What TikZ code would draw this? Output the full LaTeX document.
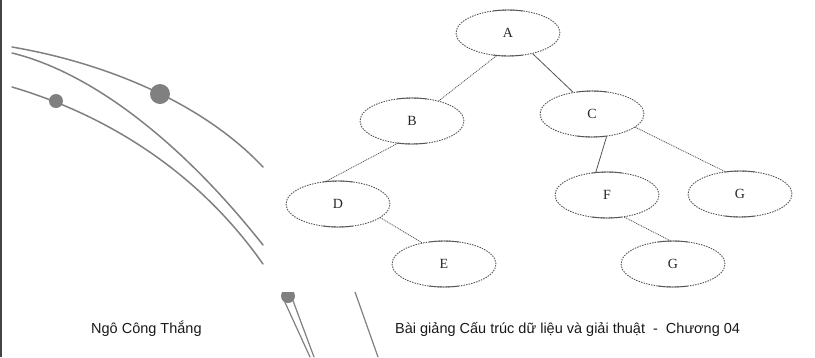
\documentclass[tikz,border=0pt]{standalone}
\usepackage{fontspec}
\setmainfont{Liberation Serif}
\newfontfamily\footfont{Liberation Sans}
\usetikzlibrary{shapes.geometric}
\definecolor{curvegray}{HTML}{808080}
\definecolor{edgegray}{HTML}{555555}
\definecolor{bordergray}{HTML}{444444}

\begin{document}
\begin{tikzpicture}[x=1pt,y=-1pt,
  treenode/.style={ellipse,draw=edgegray,line width=0.9pt,dash pattern=on 1.5pt off 1.1pt,
    minimum width=104pt,minimum height=46pt,inner sep=0pt,text=black!85,
    font=\fontsize{14}{14}\selectfont,
    postaction={draw=edgegray,line width=0.9pt,dash pattern=on 0pt off 46pt on 30pt off 92pt on 30pt off 50pt}},
  deco/.style={curvegray,line width=1.5pt,line cap=round},
  dotline/.style={edgegray,line width=0.8pt,dash pattern=on 1pt off 0.9pt},
  solidline/.style={edgegray,line width=0.8pt},
  foottext/.style={anchor=base west,inner sep=0pt,text=black!90,font=\footfont\fontsize{14.5}{14.5}\selectfont}]
\useasboundingbox (0,0) rectangle (815,357);
% left border
\draw[bordergray,line width=1.5pt] (1,0) -- (1,357);
% decorative curves
\draw[deco] (12,47) .. controls (100,62) and (200,100) .. (263,167);
\draw[deco] (12,53) .. controls (90,72) and (180,140) .. (263,245);
\draw[deco] (12,87) .. controls (90,110) and (190,160) .. (263,264);
\fill[curvegray] (160,94) circle (10pt);
\fill[curvegray] (56,101) circle (7pt);
\begin{scope}
  \clip (270,292) rectangle (420,357);
  \fill[curvegray] (288,296) circle (7pt);
  \draw[deco,line width=1.2pt] (283,298) -- (310,357);
  \draw[deco,line width=1.2pt] (292,298) -- (314,357);
  \draw[deco,line width=1.2pt] (355,292) -- (378,357);
\end{scope}
% tree
\foreach \nm/\lbl/\px/\py in {a/A/508/33, b/B/412/121, c/C/592/114, d/D/338/204,
                              e/E/444/264, f/F/607/195, g/G/740/194, h/G/673/264}
{	\node[treenode] (\nm) at (\px,\py) {\lbl};
}
\draw[dotline] (a.243) -- (b.37);
\draw[solidline] (a.320) -- (c.131);
\draw[dotline] (b.237) -- (d.117);
\draw[dotline] (d.-18) -- (e.136);
\draw[solidline] (c.-57) -- (f.116);
\draw[dotline] (c.-17) -- (g.124);
\draw[dotline] (f.-52) -- (h.97);
% footer
\node[foottext] (author) at (91,333) {Ngô Công Thắng};
\node[foottext] (course) at (395,333) {Bài giảng Cấu trúc dữ liệu và giải thuật\ \ -\ \ Chương 04};
\end{tikzpicture}
\end{document}
